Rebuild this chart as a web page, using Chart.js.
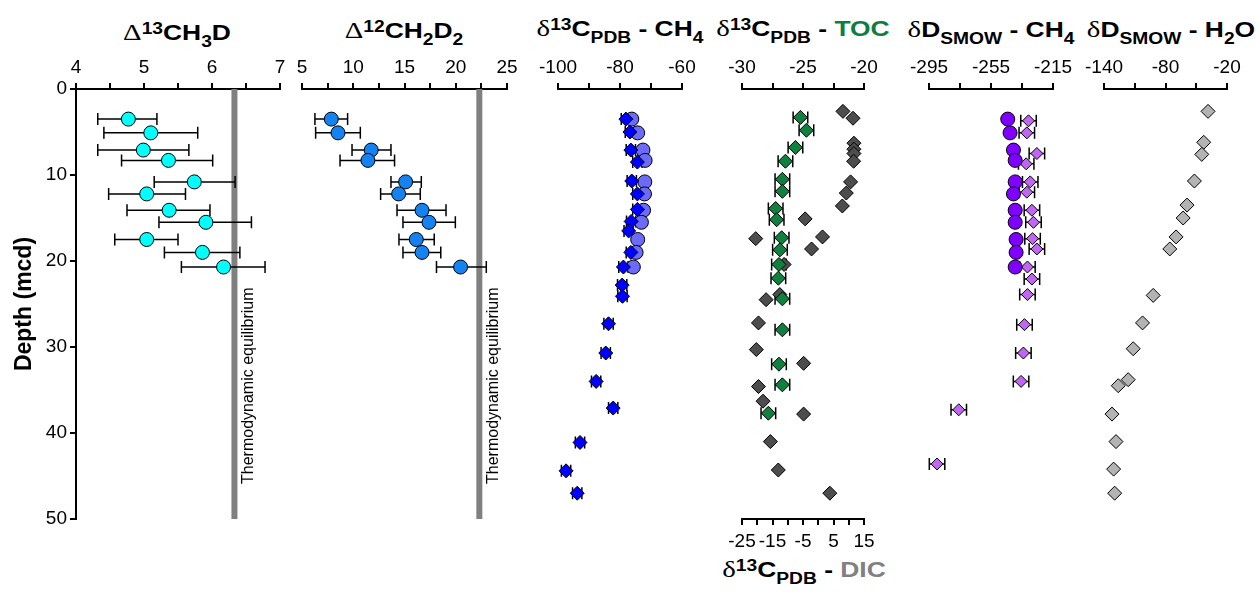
<!DOCTYPE html>
<html>
<head>
<meta charset="utf-8">
<script src="https://cdn.jsdelivr.net/npm/chart.js@4.4.1/dist/chart.umd.min.js"></script>
<style>
body { margin: 0; background: #fff; width: 1260px; height: 595px; overflow: hidden; position: relative; font-family: "Liberation Sans", Arial, sans-serif; }
canvas { position: absolute; top: 0; }
.ttl { position: absolute; white-space: nowrap; font-weight: bold; font-size: 22px; line-height: 22px; transform: translateX(-50%) scaleX(1.2); color: #000; }
.gr { font-family: "Liberation Serif", serif; font-weight: normal; font-size: 24px; }
.sup { font-size: 16px; position: relative; top: -6px; }
.sub { font-size: 16px; position: relative; top: 7px; }
</style>
</head>
<body>
<div class="ttl" style="left:177px;top:21px"><span class="gr">Δ</span><span class="sup">13</span>CH<span class="sub">3</span>D</div>
<div class="ttl" style="left:404px;top:19px"><span class="gr">Δ</span><span class="sup">12</span>CH<span class="sub">2</span>D<span class="sub">2</span></div>
<div class="ttl" style="left:620px;top:17px"><span class="gr">δ</span><span class="sup">13</span>C<span class="sub">PDB</span> - CH<span class="sub">4</span></div>
<div class="ttl" style="left:803px;top:17px"><span class="gr">δ</span><span class="sup">13</span>C<span class="sub">PDB</span> - <span style="color:#0e7d42">TOC</span></div>
<div class="ttl" style="left:991px;top:18px"><span class="gr">δ</span>D<span class="sub">SMOW</span> - CH<span class="sub">4</span></div>
<div class="ttl" style="left:1171px;top:18px"><span class="gr">δ</span>D<span class="sub">SMOW</span> - H<span class="sub">2</span>O</div>
<div class="ttl" style="left:804px;top:558px"><span class="gr">δ</span><span class="sup">13</span>C<span class="sub">PDB</span> - <span style="color:#808080">DIC</span></div>
<script>
// profundidade das amostras clumped (mcd)
const depthClumped = [3.5, 5.1, 7.1, 8.3, 10.8, 12.2, 14.1, 15.5, 17.5, 19.0, 20.7];

// Δ13CH3D
const ch3d   = [4.77, 5.10, 4.99, 5.36, 5.74, 5.04, 5.37, 5.91, 5.04, 5.86, 6.17];
const ch3dLo = [4.32, 4.41, 4.32, 4.67, 5.15, 4.48, 4.75, 5.22, 4.57, 5.30, 5.55];
const ch3dHi = [5.19, 5.79, 5.66, 6.01, 6.34, 5.61, 5.97, 6.58, 5.50, 6.41, 6.78];
const eqCH3D = 6.33;

// Δ12CH2D2
const ch2d2   = [7.86, 8.51, 11.75, 11.43, 15.11, 14.43, 16.71, 17.39, 16.15, 16.71, 20.47];
const ch2d2Lo = [6.26, 6.33, 9.88, 8.71, 13.68, 12.67, 14.27, 14.85, 14.46, 14.85, 18.12];
const ch2d2Hi = [9.45, 10.69, 13.68, 14.03, 16.64, 16.54, 19.05, 19.96, 17.90, 18.54, 22.98];
const eqCH2D2 = 22.3;

// δ13C CH4
const d13cCH4Clumped = [-76.2, -74.3, -72.6, -71.9, -72.0, -72.1, -72.4, -73.1, -74.3, -74.8, -75.7];
const depthCH4 = [3.5, 5.0, 7.1, 8.5, 10.7, 12.2, 14.0, 15.4, 16.5, 19.0, 20.7, 22.8, 24.1, 27.3, 30.7, 34.0, 37.1, 41.1, 44.4, 47.0];
const d13cCH4  = [-78.1, -76.8, -76.5, -74.4, -76.2, -74.4, -74.4, -76.4, -77.2, -76.5, -78.9, -79.3, -79.2, -83.7, -84.6, -87.7, -82.2, -92.9, -97.4, -93.8];
const d13cCH4Err = [1.5, 1.5, 1.5, 1.5, 1.5, 1.5, 1.5, 1.5, 1.5, 1.5, 1.5, 1.5, 1.5, 1.5, 1.5, 1.5, 1.5, 1.5, 1.5, 1.5];

// δ13C TOC
const depthTOC = [3.3, 4.8, 6.8, 8.4, 10.5, 11.9, 13.9, 15.2, 17.3, 18.7, 20.4, 22.0, 24.4, 28.0, 32.0, 34.4, 37.7];
const d13cTOC  = [-25.21, -24.72, -25.62, -26.44, -26.69, -26.69, -27.24, -27.16, -26.75, -26.89, -26.97, -27.02, -26.69, -26.69, -26.97, -26.69, -27.84];
const d13cTOCErr = [0.6, 0.6, 0.6, 0.6, 0.6, 0.6, 0.6, 0.6, 0.6, 0.6, 0.6, 0.6, 0.6, 0.6, 0.6, 0.6, 0.6];

// δ13C DIC (eixo inferior)
const depthDIC = [2.6, 3.4, 6.3, 7.0, 7.5, 8.4, 10.8, 12.1, 13.6, 15.1, 17.4, 17.2, 18.6, 20.4, 23.9, 24.5, 27.2, 30.3, 31.9, 34.6, 36.3, 37.8, 41.0, 44.3, 47.0];
const d13cDIC  = [8.1, 11.4, 11.7, 11.7, 11.7, 11.6, 10.6, 9.2, 7.9, -4.3, -20.5, 1.4, -2.2, -11.2, -12.6, -17.1, -19.6, -20.3, -4.8, -19.6, -18.1, -4.8, -15.7, -13.1, 3.8];

// δD CH4
const dDCH4Clumped = [-244.2, -242.7, -240.5, -239.4, -239.4, -240.5, -239.4, -239.4, -238.8, -238.8, -239.4];
const depthDCH4 = [3.7, 5.1, 7.5, 8.7, 10.8, 12.0, 14.1, 15.5, 17.4, 18.6, 20.7, 22.1, 23.9, 27.4, 30.7, 34.0, 37.3, 43.6];
const dDCH4     = [-230.8, -231.9, -225.4, -232.3, -229.7, -231.9, -228.6, -227.6, -228.2, -225.4, -231.5, -228.6, -231.5, -233.4, -234.1, -235.6, -275.8, -289.8];
const dDCH4Err  = [5, 5, 5, 5, 5, 5, 5, 5, 5, 5, 5, 5, 5, 5, 5, 5, 5, 5];

// δD H2O
const depthH2O = [2.6, 6.2, 7.6, 10.7, 13.5, 15.0, 17.2, 18.6, 24.0, 27.2, 30.2, 33.8, 34.5, 37.8, 41.0, 44.2, 47.0];
const dDH2O    = [-38.5, -42.7, -44.6, -51.8, -59.0, -62.8, -69.7, -75.8, -92.0, -102.4, -111.5, -116.4, -126.1, -132.2, -128.3, -130.6, -129.6];

// faixas dos eixos [min, max, passo]
const depthRange = [0, 50, 10];
const rangeCH3D = [4, 7, 0.5];
const rangeCH2D2 = [5, 25, 2.5];
const rangeCH4 = [-100, -60, 10];
const rangeTOC = [-30, -20, 2.5];
const rangeDIC = [-25, 15, 5];
const rangeDCH4 = [-295, -215, 20];
const rangeH2O = [-140, -20, 30];

Chart.defaults.font.family = '"Liberation Sans", Arial, sans-serif';

function pts(xs, ys) {
    return xs.map((x, i) => ({ x: x, y: ys[i] }));
}

// barras de erro horizontais
const errorBars = {
    id: 'errorBars',
    beforeDatasetsDraw(chart) {
        const ctx = chart.ctx;
        chart.data.datasets.forEach((ds, i) => {
            if (!ds.errLo) return;
            const meta = chart.getDatasetMeta(i);
            const xs = chart.scales[meta.xAxisID];
            const ys = chart.scales[meta.yAxisID];
            ctx.save();
            ctx.strokeStyle = '#000';
            ctx.lineWidth = 1.5;
            ds.data.forEach((p, j) => {
                const y = ys.getPixelForValue(p.y);
                const x1 = xs.getPixelForValue(ds.errLo[j]);
                const x2 = xs.getPixelForValue(ds.errHi[j]);
                ctx.beginPath();
                ctx.moveTo(x1, y); ctx.lineTo(x2, y);
                ctx.moveTo(x1, y - 6); ctx.lineTo(x1, y + 6);
                ctx.moveTo(x2, y - 6); ctx.lineTo(x2, y + 6);
                ctx.stroke();
            });
            ctx.restore();
        });
    }
};

// linha de equilibrio termodinamico
const eqLine = {
    id: 'eqLine',
    beforeDatasetsDraw(chart, args, opts) {
        if (opts.value === undefined) return;
        const ctx = chart.ctx;
        const x = chart.scales.x.getPixelForValue(opts.value);
        const y0 = chart.scales.y.getPixelForValue(0);
        const y1 = chart.scales.y.getPixelForValue(50);
        ctx.save();
        ctx.strokeStyle = '#808080';
        ctx.lineWidth = 6;
        ctx.beginPath();
        ctx.moveTo(x, y0); ctx.lineTo(x, y1);
        ctx.stroke();
        ctx.translate(x + 14, chart.scales.y.getPixelForValue(34.5));
        ctx.rotate(-Math.PI / 2);
        ctx.fillStyle = '#000';
        ctx.font = '16px "Liberation Sans", Arial, sans-serif';
        ctx.textAlign = 'center';
        ctx.textBaseline = 'middle';
        ctx.fillText('Thermodynamic equilibrium', 0, 0);
        ctx.restore();
    }
};

function eixoX(pos, r, h, pad) {
    return {
        type: 'linear',
        position: pos,
        min: r[0],
        max: r[1],
        ticks: {
            stepSize: r[2],
            autoSkip: false,
            maxRotation: 0,
            color: '#000',
            padding: pad,
            font: { size: 19 },
            callback: (v, i) => i % 2 === 0 ? String(v) : ''
        },
        grid: { drawOnChartArea: false, tickLength: 6, lineWidth: 2, color: '#000' },
        border: { display: true, color: '#000', width: 2 },
        afterFit: s => { s.height = h; }
    };
}

function circulos(xs, ys, cor) {
    return { data: pts(xs, ys), pointStyle: 'circle', pointRadius: 7, backgroundColor: cor, borderColor: '#000', borderWidth: 1, clip: false };
}

function losangos(xs, ys, cor, r) {
    return { data: pts(xs, ys), pointStyle: 'rectRot', pointRadius: r, backgroundColor: cor, borderColor: '#000', borderWidth: 1, clip: false };
}

function criarPainel(left, right, xRange, datasets, extra) {
    extra = extra || {};
    const cv = document.createElement('canvas');
    const cl = extra.yAxis ? 0 : left - 40;
    cv.width = right + 40 - cl;
    cv.height = 595;
    cv.style.left = cl + 'px';
    cv.style.width = cv.width + 'px';
    cv.style.height = '595px';
    document.body.appendChild(cv);

    const eixoY = {
        type: 'linear',
        display: !!extra.yAxis,
        reverse: true,
        min: depthRange[0],
        max: depthRange[1],
        ticks: { stepSize: depthRange[2], color: '#000', padding: 3, font: { size: 19 } },
        grid: { drawOnChartArea: false, tickLength: 6, lineWidth: 2, color: '#000' },
        border: { display: true, color: '#000', width: 2 },
        title: { display: true, text: 'Depth (mcd)', color: '#000', font: { size: 23, weight: 'bold' }, padding: { top: 11, bottom: 0 } }
    };
    if (extra.yAxis) {
        eixoY.afterFit = s => { s.width = 76; };
    }
    const scales = { x: eixoX('top', xRange, 89, 4), y: eixoY };
    if (extra.bottom) {
        scales.x2 = eixoX('bottom', extra.bottom, 76, 5);
    }

    new Chart(cv.getContext('2d'), {
        type: 'scatter',
        data: { datasets: datasets },
        options: {
            responsive: false,
            animation: false,
            devicePixelRatio: 1,
            layout: { padding: { left: extra.yAxis ? 0 : 40, right: 40, top: 0, bottom: extra.bottom ? 0 : 76 } },
            plugins: {
                legend: { display: false },
                tooltip: { enabled: false },
                eqLine: { value: extra.eq }
            },
            scales: scales
        },
        plugins: [eqLine, errorBars]
    });
}

// Painel 1 - Δ13CH3D
const ds1 = circulos(ch3d, depthClumped, '#00ffff');
ds1.errLo = ch3dLo; ds1.errHi = ch3dHi;
criarPainel(76, 280, rangeCH3D, [ds1], { yAxis: true, eq: eqCH3D });

// Painel 2 - Δ12CH2D2
const ds2 = circulos(ch2d2, depthClumped, '#1482f0');
ds2.errLo = ch2d2Lo; ds2.errHi = ch2d2Hi;
criarPainel(302, 507, rangeCH2D2, [ds2], { eq: eqCH2D2 });

// Painel 3 - δ13C CH4
const ds3a = losangos(d13cCH4, depthCH4, '#0000ff', 7);
ds3a.errLo = d13cCH4.map((v, i) => v - d13cCH4Err[i]);
ds3a.errHi = d13cCH4.map((v, i) => v + d13cCH4Err[i]);
const ds3b = circulos(d13cCH4Clumped, depthClumped, '#6b6bf7');
criarPainel(558, 682, rangeCH4, [ds3a, ds3b]);

// Painel 4 - δ13C TOC / DIC
const ds4a = losangos(d13cTOC, depthTOC, '#10803f', 7);
ds4a.errLo = d13cTOC.map((v, i) => v - d13cTOCErr[i]);
ds4a.errHi = d13cTOC.map((v, i) => v + d13cTOCErr[i]);
const ds4b = losangos(d13cDIC, depthDIC, '#4d4d4d', 7);
ds4b.xAxisID = 'x2';
criarPainel(742, 864, rangeTOC, [ds4a, ds4b], { bottom: rangeDIC });

// Painel 5 - δD CH4
const ds5a = circulos(dDCH4Clumped, depthClumped, '#8000ff');
const ds5b = losangos(dDCH4, depthDCH4, '#c066f2', 6);
ds5b.errLo = dDCH4.map((v, i) => v - dDCH4Err[i]);
ds5b.errHi = dDCH4.map((v, i) => v + dDCH4Err[i]);
criarPainel(929, 1053, rangeDCH4, [ds5a, ds5b]);

// Painel 6 - δD H2O
criarPainel(1104, 1227, rangeH2O, [losangos(dDH2O, depthH2O, '#b3b3b3', 7)]);
</script>
</body>
</html>
